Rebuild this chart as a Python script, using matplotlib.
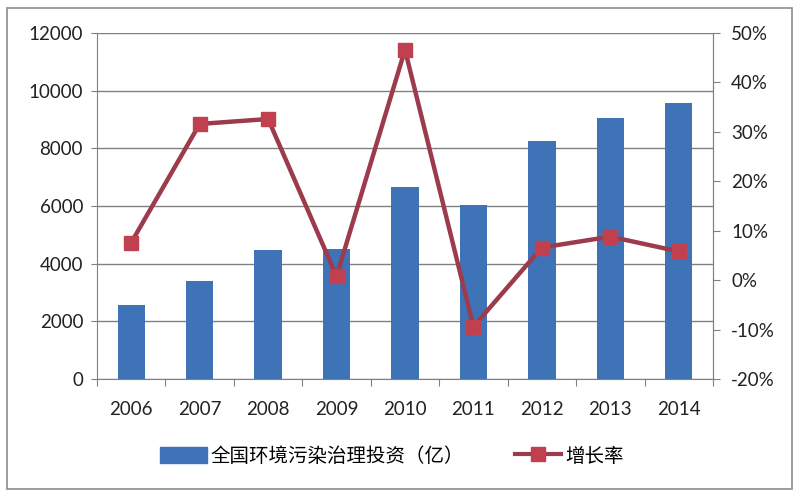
import matplotlib
matplotlib.use("Agg")
import matplotlib.pyplot as plt
from matplotlib.patches import Rectangle
from matplotlib.lines import Line2D
from matplotlib.ticker import FuncFormatter

years = ["2006", "2007", "2008", "2009", "2010", "2011", "2012", "2013", "2014"]
investment = [2566, 3388, 4490, 4525, 6654, 6026, 8254, 9037, 9575]
growth = [7.6, 31.6, 32.6, 0.8, 46.6, -9.4, 6.6, 8.8, 5.8]
bar_label = "全国环境污染治理投资（亿）"
line_label = "增长率"

plt.rcParams['font.family'] = ['Lato', 'Noto Sans CJK SC', 'DejaVu Sans']

fig = plt.figure(figsize=(8, 5), dpi=100)
fig.patches.append(Rectangle((7/800, 1-489/500), 785/800, 481/500, transform=fig.transFigure,
                             fill=False, edgecolor='#8c8c8c', linewidth=1.2))
ax = fig.add_axes([97/800, 1-379/500, 616/800, 346/500])
x = list(range(len(years)))
ax.bar(x, investment, width=0.4, color='#3F73B8', zorder=2)
ax.set_xlim(-0.5, len(years)-0.5)
ax.set_ylim(0, 12000)
ax.set_yticks(range(0, 12001, 2000))
ax.yaxis.grid(True, color='#808080', linewidth=1, zorder=0)
ax.set_xticks([i - 0.5 for i in range(len(years)+1)])
ax.set_xticklabels([])
ax.set_xticks(x, minor=True)
ax.set_xticklabels(years, minor=True)
ax.tick_params(axis='x', which='major', length=5, color='#808080', direction='out')
ax.tick_params(axis='x', which='minor', length=0, pad=16, labelsize=13.5, labelcolor='#222222')
ax.tick_params(axis='y', length=4, color='#808080', labelsize=13.5, labelcolor='#222222', pad=6)
for s in ['left', 'bottom', 'right']:
    ax.spines[s].set_color('#808080')
ax.spines['top'].set_visible(False)

ax2 = ax.twinx()
ax2.plot(x, growth, color='#9C3B4C', linewidth=3.2, marker='s', markersize=10,
         markerfacecolor='#C0404F', markeredgecolor='#C0404F', zorder=3)
ax2.set_ylim(-20, 50)
ax2.set_yticks(range(-20, 51, 10))
ax2.yaxis.set_major_formatter(FuncFormatter(lambda v, p: f"{int(v)}%"))
ax2.tick_params(axis='y', length=5, color='#808080', labelsize=13.5, labelcolor='#222222', pad=8)
for s in ['left', 'bottom', 'top']:
    ax2.spines[s].set_visible(False)
ax2.spines['right'].set_color('#808080')

handles = [Rectangle((0, 0), 1, 1, color='#3F73B8'),
           Line2D([0], [0], color='#9C3B4C', linewidth=3, marker='s', markersize=10,
                  markerfacecolor='#C0404F', markeredgecolor='#C0404F')]
fig.legend(handles, [bar_label, line_label], loc='center', bbox_to_anchor=(0.49, 1-456/500),
           ncol=2, frameon=False, handlelength=2.4, handleheight=0.9,
           columnspacing=2.6, handletextpad=0.2,
           prop={'family': ['Noto Sans CJK SC', 'DejaVu Sans'], 'size': 14})

fig.savefig("out.png", dpi=100)
